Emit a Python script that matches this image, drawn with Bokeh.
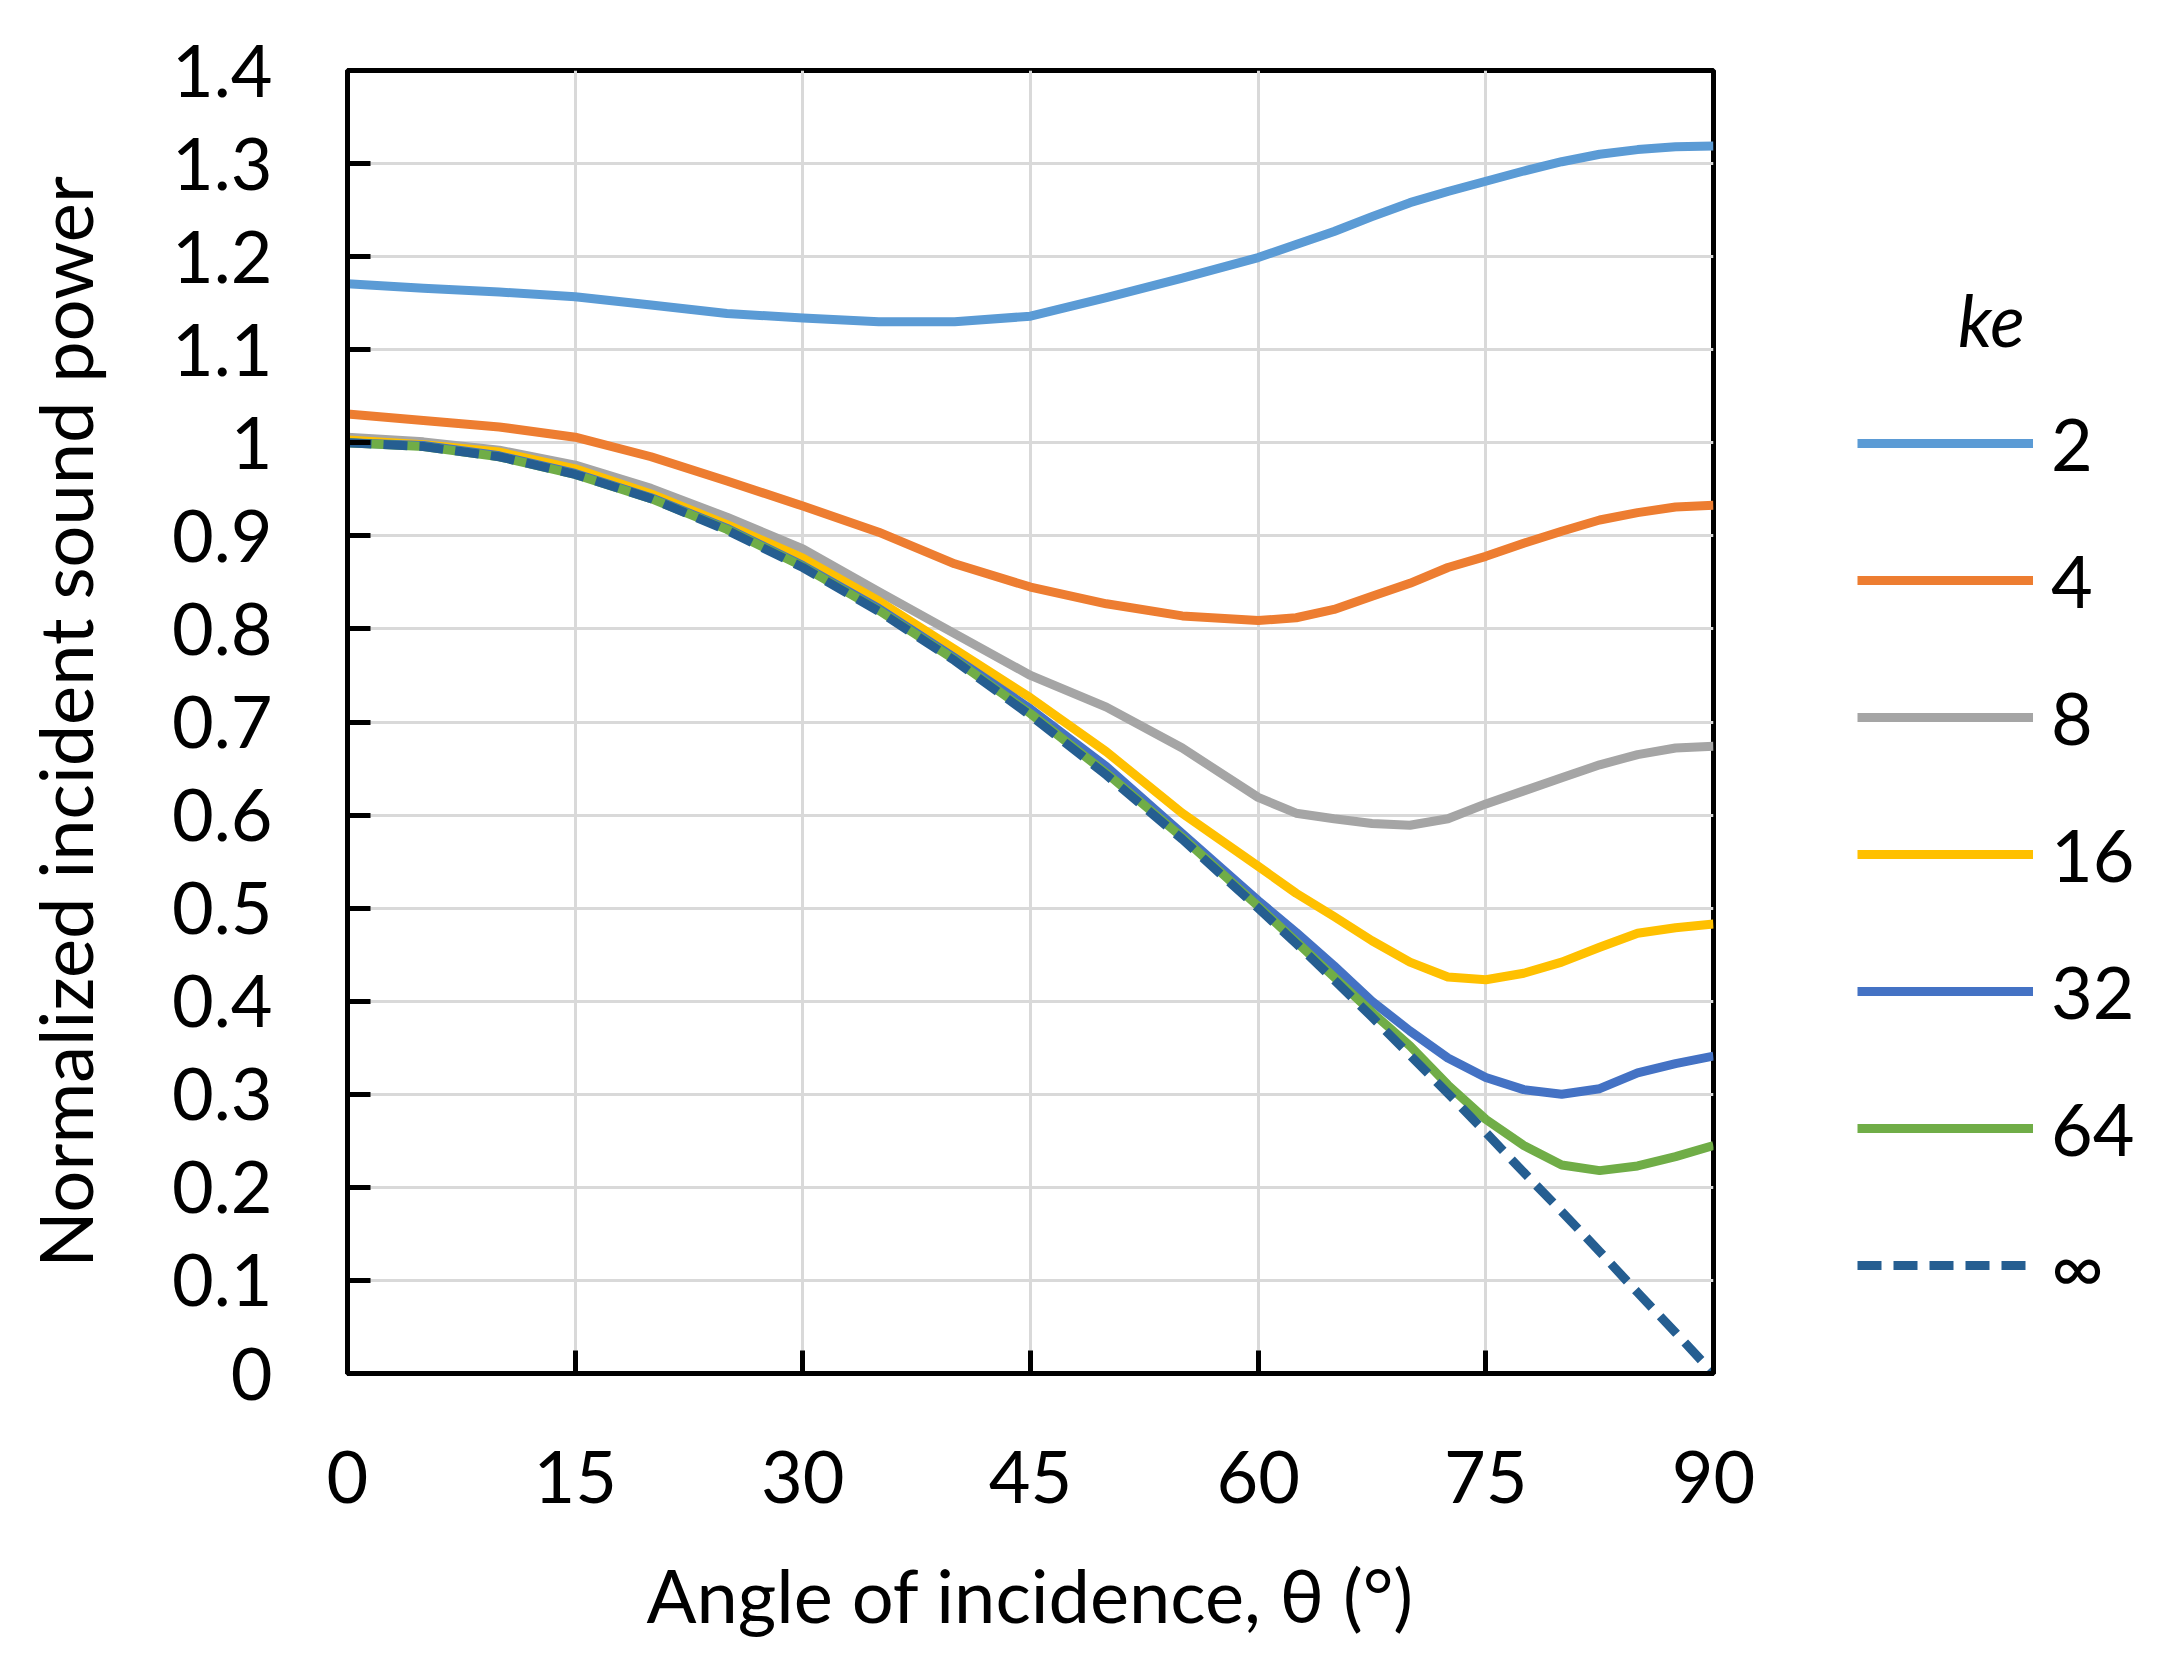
from bokeh.plotting import figure
from bokeh.models import Range1d, FixedTicker, Legend, LegendItem
from bokeh.embed import file_html
from bokeh.resources import INLINE

# ---------------- data ----------------
theta = [0, 5, 10, 15, 20, 25, 30, 35, 40, 45, 50, 55,
         60, 62.5, 65, 67.5, 70, 72.5, 75, 77.5, 80, 82.5, 85, 87.5, 90]

ke2 = [1.171, 1.166, 1.162, 1.157, 1.148, 1.139, 1.134, 1.130, 1.130, 1.136, 1.156, 1.177,
       1.199, 1.213, 1.227, 1.243, 1.258, 1.270, 1.281, 1.292, 1.302, 1.310, 1.315, 1.318, 1.319]
ke4 = [1.031, 1.024, 1.017, 1.006, 0.985, 0.959, 0.932, 0.904, 0.870, 0.845, 0.827, 0.814,
       0.809, 0.812, 0.821, 0.835, 0.849, 0.866, 0.878, 0.892, 0.905, 0.917, 0.925, 0.931, 0.933]
ke8 = [1.006, 1.001, 0.992, 0.976, 0.951, 0.920, 0.886, 0.840, 0.795, 0.750, 0.716, 0.672,
       0.619, 0.602, 0.596, 0.591, 0.589, 0.596, 0.612, 0.626, 0.640, 0.654, 0.665, 0.672, 0.674]
ke16 = [1.003, 0.998, 0.990, 0.972, 0.945, 0.912, 0.876, 0.830, 0.778, 0.726, 0.668, 0.602,
        0.545, 0.516, 0.491, 0.465, 0.442, 0.426, 0.423, 0.430, 0.442, 0.458, 0.473, 0.479, 0.483]
ke32 = [1.000, 0.997, 0.986, 0.967, 0.941, 0.908, 0.868, 0.822, 0.769, 0.714, 0.652, 0.580,
        0.508, 0.474, 0.438, 0.400, 0.368, 0.339, 0.318, 0.305, 0.300, 0.306, 0.323, 0.333, 0.341]
ke64 = [1.000, 0.996, 0.985, 0.966, 0.940, 0.907, 0.867, 0.820, 0.767, 0.709, 0.645, 0.576,
        0.502, 0.464, 0.426, 0.388, 0.352, 0.310, 0.273, 0.245, 0.224, 0.218, 0.223, 0.233, 0.245]
ke_inf = [1.000, 0.996, 0.985, 0.966, 0.940, 0.906, 0.866, 0.819, 0.766, 0.707, 0.643, 0.574,
          0.500, 0.462, 0.423, 0.383, 0.342, 0.301, 0.259, 0.216, 0.174, 0.131, 0.087, 0.044, 0.000]

series_labels = ["2", "4", "8", "16", "32", "64", "\u221e"]
series_values = [ke2, ke4, ke8, ke16, ke32, ke64, ke_inf]
series_colors = ["#5B9BD5", "#ED7D31", "#A5A5A5", "#FFC000", "#4472C4", "#70AD47", "#255E91"]
series_dash = ["solid", "solid", "solid", "solid", "solid", "solid", "24 12"]

x_ticks = [0, 15, 30, 45, 60, 75, 90]
x_tick_labels = ["0", "15", "30", "45", "60", "75", "90"]
y_ticks = [0, 0.1, 0.2, 0.3, 0.4, 0.5, 0.6, 0.7, 0.8, 0.9, 1, 1.1, 1.2, 1.3, 1.4]
y_tick_labels = ["0", "0.1", "0.2", "0.3", "0.4", "0.5", "0.6", "0.7", "0.8", "0.9",
                 "1", "1.1", "1.2", "1.3", "1.4"]

x_title = "Angle of incidence, \u03b8 (\u00b0)"
y_title = "Normalized incident sound power"
legend_title = "ke"

# ---------------- figure ----------------
FONT = "Lato"
FS = "72px"
FS_TITLE = "74px"

p = figure(frame_width=1366, frame_height=1303,
           x_range=Range1d(0, 90), y_range=Range1d(0, 1.4),
           output_backend="svg", toolbar_location=None,
           min_border_left=347, min_border_right=440,
           min_border_top=70, min_border_bottom=283,
           background_fill_color="white", border_fill_color="white")

p.outline_line_color = "black"
p.outline_line_width = 5

for ax, ticks, labels in ((p.xaxis, x_ticks, x_tick_labels), (p.yaxis, y_ticks, y_tick_labels)):
    ax.ticker = FixedTicker(ticks=ticks)
    ax.major_label_overrides = dict(zip(ticks, labels))
    ax.axis_line_color = "black"
    ax.axis_line_width = 5
    ax.major_tick_line_color = "black"
    ax.major_tick_line_width = 5
    ax.major_tick_in = 23
    ax.major_tick_out = 0
    ax.minor_tick_line_color = None
    ax.major_label_text_font = FONT
    ax.major_label_text_font_size = FS
    ax.major_label_text_color = "black"
    ax.axis_label_text_font = FONT
    ax.axis_label_text_font_size = FS_TITLE
    ax.axis_label_text_font_style = "normal"
    ax.axis_label_text_color = "black"

p.xaxis.axis_label = x_title
p.yaxis.axis_label = y_title
p.xaxis.major_label_standoff = 77
p.xaxis.axis_label_standoff = 44
p.yaxis.major_label_standoff = 75
p.yaxis.axis_label_standoff = 60

for g in (p.xgrid, p.ygrid):
    g.grid_line_color = "#D9D9D9"
    g.grid_line_width = 3

items = []
for lbl, vals, col, dash in zip(series_labels, series_values, series_colors, series_dash):
    r = p.line(theta, vals, line_color=col, line_width=9, line_dash=dash,
               line_join="round")
    items.append(LegendItem(label=lbl, renderers=[r]))

# the heading sits above the label column: indent it with no-break spaces
legend = Legend(items=items, location=(144, 63),
                title="\u00a0" * 6 + legend_title, title_standoff=36,
                title_text_font=FONT, title_text_font_size=FS,
                title_text_font_style="italic", title_text_color="black",
                glyph_width=176, glyph_height=90, label_height=90,
                label_standoff=18, spacing=47, padding=0, margin=0,
                border_line_alpha=0, background_fill_alpha=0,
                label_text_font=FONT, label_text_font_size=FS,
                label_text_color="black")
p.add_layout(legend, "right")

open("out.html", "w").write(file_html(p, INLINE))
